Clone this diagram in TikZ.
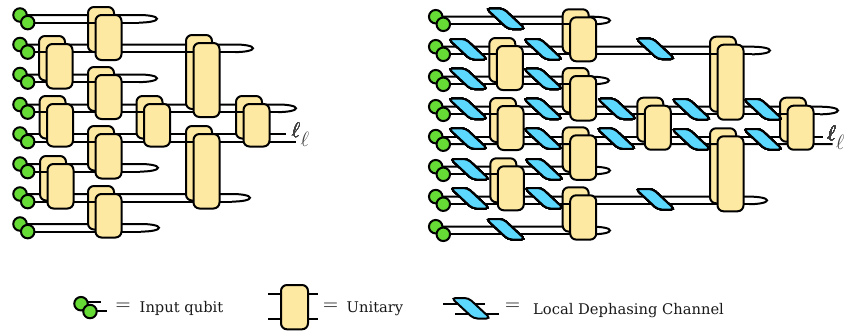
\documentclass[tikz,border=0pt]{standalone}
\usepackage{fontspec}
\setmainfont{DejaVu Serif}
\definecolor{qubitgreen}{HTML}{66DA35}
\definecolor{gateyellow}{HTML}{FEE9A2}
\definecolor{chanblue}{HTML}{5CD8FF}
\pgfdeclarelayer{wireup}
\pgfdeclarelayer{gateback}
\pgfdeclarelayer{wirelow}
\pgfdeclarelayer{chan}
\pgfsetlayers{wireup,gateback,wirelow,chan,main}
\tikzset{
  wire/.style={line width=2pt},
  qubit/.style={circle, draw, fill=qubitgreen, line width=2pt, minimum size=13.5pt, inner sep=0pt},
  ugate/.style={rectangle, rounded corners=6pt, draw, fill=gateyellow, line width=2pt, minimum width=26pt, inner sep=0pt, outer sep=0pt, anchor=north west},
  channel/.style={draw, fill=chanblue, line width=2pt, rounded corners=4pt},
  legend/.style={anchor=base west, inner sep=0pt, text=black!90, font=\fontsize{14.7}{17}\selectfont},
  equal/.style={anchor=center, text=black, font=\fontsize{22}{22}\selectfont},
  ell/.style={anchor=center, inner sep=0pt, text=black!75, font=\fontsize{20}{20}\selectfont}
}
% back box, then front box shifted by (7.5,8)
\newcommand{\ugatepair}[4]{
  \begin{pgfonlayer}{gateback}
    \node[ugate, minimum height=#4pt] (#1b) at (#2,#3) {};
  \end{pgfonlayer}
  \node[ugate, minimum height=#4pt] (#1f) at (#2+7.5,#3+8) {};
}
% wire pair closed by a loop at x=#4
\newcommand{\wirepair}[4]{
  \begin{pgfonlayer}{wireup}
    \draw[wire] (#1.center) -- (#4-18,#3) .. controls (#4-8,#3) and (#4,#3+1.5) .. (#4,#3+3.8) .. controls (#4,#3+6) and (#4-8,#3+7.6) .. (#4-18,#3+7.6);
  \end{pgfonlayer}
  \begin{pgfonlayer}{wirelow}
    \draw[wire] (#2.center) -- (#4-18,#3+7.6);
  \end{pgfonlayer}
}
\newcommand{\chanbox}[2]{
  \begin{pgfonlayer}{chan}
    \draw[channel] (#1-1.5,#2) -- ++(17,0) -- ++(22,20.5) -- ++(-17,0) -- cycle;
  \end{pgfonlayer}
}
\begin{document}
\begin{tikzpicture}[x=1pt,y=-1pt]
\useasboundingbox (0,0) rectangle (848,333);

% left circuit
\foreach \y [count=\i] in {15,44.5,74.5,104.5,134,164,194,224} {
  \node[qubit] (lu\i) at (20,\y) {};
  \node[qubit] (ld\i) at (27.7,\y+7.6) {};
}
\foreach \i/\y/\t in {1/15/157, 2/44.5/253, 3/74.5/157, 4/104.5/296, 6/164/158, 7/194/250, 8/224/159}
  \wirepair{lu\i}{ld\i}{\y}{\t}
\coordinate (lendu) at (286,134);
\coordinate (lendd) at (296,141.6);
\begin{pgfonlayer}{wireup}
  \draw[wire] (lu5.center) -- (lendu);
\end{pgfonlayer}
\begin{pgfonlayer}{wirelow}
  \draw[wire] (ld5.center) -- (lendd);
\end{pgfonlayer}
\foreach \n/\x/\y/\h in {la/88/7/45, lb/39/36/44.5, lc/88/67/44, ld/39.5/96/42.5, le/88/126/44.5, lf/40/156/44.5, lg/88/186/43.5, lh/186/35/74, li/136.5/96/42.5, lj/186/126/74.5, lk/236/96/42.5}
  \ugatepair{\n}{\x}{\y}{\h}
\node[ell] (lellu) at (296,130) {$\ell$};
\node[ell] (lelld) at (305,139) {$\ell$};

% right circuit
\foreach \y [count=\i] in {16.7,46.7,76.7,106.7,136.6,166.7,196.6,226.7} {
  \node[qubit] (ru\i) at (435.7,\y) {};
  \node[qubit] (rd\i) at (443.3,\y+7.6) {};
}
\foreach \i/\y/\t in {1/16.7/610, 2/46.7/770, 3/76.7/609, 4/106.7/838, 6/166.7/610, 7/196.6/767, 8/226.7/610}
  \wirepair{ru\i}{rd\i}{\y}{\t}
\coordinate (rendu) at (822.7,136.6);
\coordinate (rendd) at (832.7,144.2);
\begin{pgfonlayer}{wireup}
  \draw[wire] (ru5.center) -- (rendu);
\end{pgfonlayer}
\begin{pgfonlayer}{wirelow}
  \draw[wire] (rd5.center) -- (rendd);
\end{pgfonlayer}
\foreach \n/\x/\y/\h in {ra/562.7/9.3/44, rb/489.3/38/44, rc/562.7/68/44.5, rd/490/98/44, re/562.7/127.3/44.5, rf/490.3/158.3/44, rg/562.7/187.3/44.3, rh/710/36.7/75, ri/637.3/97.7/44, rj/710/128.3/75, rk/780/97.7/44}
  \ugatepair{\n}{\x}{\y}{\h}
\foreach \x/\y in {487.7/8.5, 450/39, 525/39, 637.3/38.5, 450/68.5, 525/68.5, 450/98.5, 525/98.5, 599/98.5, 673.3/99, 745/99, 450/128.3, 525/128.3, 598.3/128.3, 673.3/129, 745/129, 452/159, 526/159, 452/188, 526/188, 637.3/189, 487.7/219}
  \chanbox{\x}{\y}
\node[ell] (rellu) at (831.5,133) {$\ell$};
\node[ell] (relld) at (840,142) {$\ell$};

% legend
\node[qubit] (kqu) at (81,303.7) {};
\node[qubit] (kqd) at (90,311.5) {};
\coordinate (kqeu) at (100.7,302);
\coordinate (kqed) at (106.7,311);
\begin{pgfonlayer}{wireup}
  \draw[wire] (kqu.center |- kqeu) -- (kqeu);
  \draw[wire] (kqd.center |- kqed) -- (kqed);
\end{pgfonlayer}
\node[equal] (keq1) at (123,306.5) {$=$};
\node[legend] (ktxt1) at (139.5,312.7) {Input qubit};

\node[ugate, minimum width=27pt, minimum height=44.3pt] (kgate) at (281,285) {};
\coordinate (kgl1) at (268,294);
\coordinate (kgl2) at (268,319);
\coordinate (kgr1) at (318,294);
\coordinate (kgr2) at (318,319);
\begin{pgfonlayer}{wireup}
  \draw[wire] (kgl1) -- (kgr1);
  \draw[wire] (kgl2) -- (kgr2);
\end{pgfonlayer}
\node[equal] (keq2) at (330.5,306.5) {$=$};
\node[legend] (ktxt2) at (346.5,312.7) {Unitary};

\coordinate (kcl1) at (443.3,304);
\coordinate (kcr1) at (485,304);
\coordinate (kcl2) at (455,314);
\coordinate (kcr2) at (499,314);
\begin{pgfonlayer}{wireup}
  \draw[wire] (kcl1) -- (kcr1);
  \draw[wire] (kcl2) -- (kcr2);
\end{pgfonlayer}
\chanbox{453}{298}
\node[equal] (keq3) at (512.5,307) {$=$};
\node[legend] (ktxt3) at (533,314) {Local Dephasing Channel};
\end{tikzpicture}
\end{document}
